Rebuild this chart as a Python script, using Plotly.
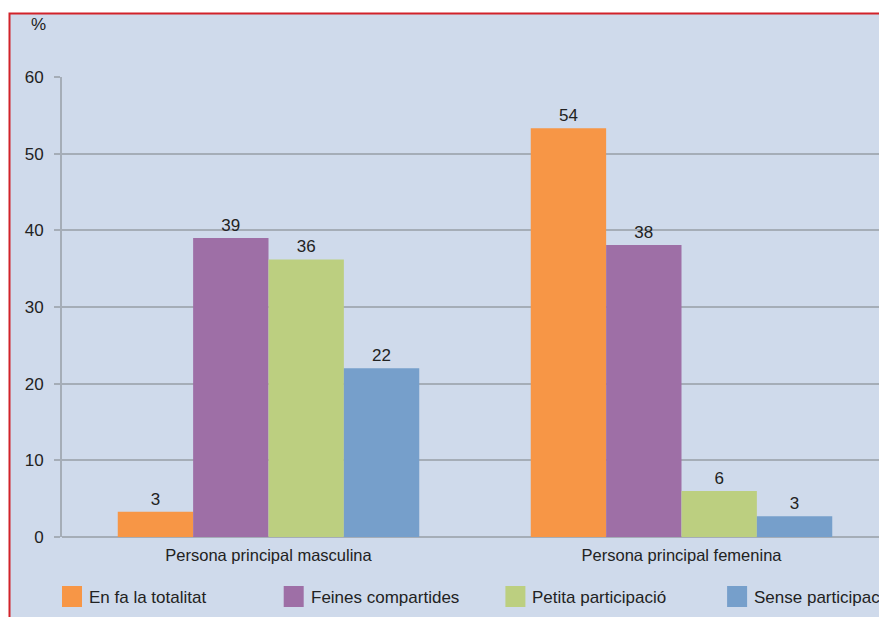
import plotly.graph_objects as go

categories = ["Persona principal masculina", "Persona principal femenina"]
series_names = ["En fa la totalitat", "Feines compartides", "Petita participació", "Sense participació"]
series_values = [
    [3.3, 53.3],
    [39.0, 38.1],
    [36.2, 6.0],
    [22.0, 2.7],
]
series_labels = [
    ["3", "54"],
    ["39", "38"],
    ["36", "6"],
    ["22", "3"],
]
colors = ["#f79646", "#9e6fa6", "#bccf80", "#769fcb"]
y_ticks = [0, 10, 20, 30, 40, 50, 60]

W, H = 879, 617
ML, MR, MT, MB = 62, 0, 77, 80
PW, PH = W - ML - MR, H - MT - MB

def px_x(p):
    return (p - ML) / PW

def px_y(p):
    return (H - MB - p) / PH

FONT = "Liberation Sans"
TXT = "#222222"

fig = go.Figure()
for name, vals, labs, col in zip(series_names, series_values, series_labels, colors):
    fig.add_trace(go.Bar(
        x=categories, y=vals, name=name, marker=dict(color=col, line=dict(width=0)),
        text=labs, textposition="outside", cliponaxis=False,
        textfont=dict(family=FONT, size=17, color=TXT),
        showlegend=False,
    ))

shapes = [
    dict(type="rect", xref="paper", yref="paper", layer="below",
         x0=px_x(9.5), x1=px_x(W + 20), y0=px_y(H + 20), y1=px_y(13.5),
         fillcolor="#cfdaeb", line=dict(color="#d2232a", width=2)),
]
annotations = [
    dict(text="%", xref="paper", yref="paper", x=px_x(38), y=px_y(24),
         xanchor="center", yanchor="middle",
         showarrow=False, font=dict(family=FONT, size=17, color=TXT)),
]
leg_x0 = 62
leg_step = 221.7
for i, (name, col) in enumerate(zip(series_names, colors)):
    x0 = leg_x0 + i * leg_step
    shapes.append(dict(type="rect", xref="paper", yref="paper",
                       x0=px_x(x0), x1=px_x(x0 + 20), y0=px_y(607), y1=px_y(586),
                       fillcolor=col, line=dict(width=0)))
    annotations.append(dict(text=name, xref="paper", yref="paper",
                            x=px_x(x0 + 25), y=px_y(597), xanchor="left", yanchor="middle",
                            showarrow=False, font=dict(family=FONT, size=17, color=TXT)))

fig.update_layout(
    width=W, height=H,
    margin=dict(l=ML, r=MR, t=MT, b=MB, pad=0),
    paper_bgcolor="white", plot_bgcolor="rgba(0,0,0,0)",
    barmode="group", bargap=0.27, bargroupgap=0,
    font=dict(family=FONT, size=17, color=TXT),
    shapes=shapes, annotations=annotations,
    showlegend=False,
)
fig.update_xaxes(
    range=[-0.5, -0.5 + PW / 413.0], showgrid=False,
    showline=False, ticks="", ticklabelstandoff=6,
    tickfont=dict(family=FONT, size=16.5, color=TXT),
    fixedrange=True,
)
fig.update_yaxes(
    range=[0, 60], tickvals=y_ticks, showgrid=True, gridcolor="#a5adb7", gridwidth=2,
    showline=True, linecolor="#a5adb7", linewidth=2,
    ticks="outside", ticklen=6, tickcolor="#a5adb7", tickwidth=2,
    ticklabelstandoff=7,
    zeroline=True, zerolinecolor="#a5adb7", zerolinewidth=2,
    tickfont=dict(family=FONT, size=17, color=TXT),
    fixedrange=True,
)

fig.write_html(
    "out.html",
    config={"displayModeBar": False},
    post_script="document.body.style.margin='0';document.body.style.overflow='hidden';",
)
